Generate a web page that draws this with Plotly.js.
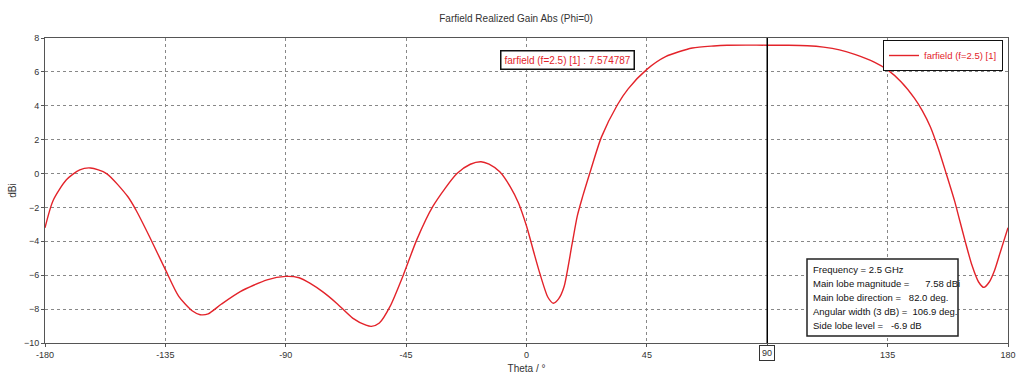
<!DOCTYPE html>
<html>
<head>
<meta charset="utf-8">
<script src="https://cdn.plot.ly/plotly-3.0.1.min.js"></script>
<style>html,body{margin:0;padding:0;background:#fff;}#chart{width:1024px;height:381px;}</style>
</head>
<body>
<div id="chart"></div>
<script>
// Theta (deg) and realized gain (dBi)
const theta = [-180,-177,-172,-167,-163,-157,-149,-146,-141,-135,-130,-125,-122,-119,-114,-107,-97,-90,-85,-81,-76,-71,-65,-60,-58,-55,-51,-46,-41,-35,-26,-21,-17,-14,-10,-6,-3,0,3,5,8,10,12,14,17,19,21,24,28,34,38,45,52,62,70,75,82,90,98,105,111,117,123,130,135,140,145,148,151,154,157,160,162,164,166.5,169,171,173,175,177,180];
const gain  = [-3.2,-1.6,-0.37,0.22,0.33,0.0,-1.37,-2.15,-3.7,-5.67,-7.25,-8.1,-8.33,-8.28,-7.7,-6.97,-6.27,-6.07,-6.15,-6.47,-7.0,-7.65,-8.53,-8.95,-9.02,-8.82,-7.84,-5.97,-3.9,-1.94,0.0,0.55,0.7,0.55,0.1,-0.8,-1.74,-3.1,-4.8,-5.9,-7.3,-7.65,-7.4,-6.7,-4.2,-2.5,-1.35,0.2,2.15,4.06,5.0,6.15,6.9,7.41,7.53,7.57,7.58,7.575,7.57,7.54,7.46,7.3,7.02,6.58,6.12,5.42,4.45,3.7,2.75,1.45,-0.05,-1.6,-2.8,-4.0,-5.4,-6.4,-6.72,-6.4,-5.7,-4.7,-3.2];
const xTicks = [-180,-135,-90,-45,0,45,90,135,180];
const xTickText = ['-180','-135','-90','-45','0','45','','135','180'];
const yTicks = [-10,-8,-6,-4,-2,0,2,4,6,8];
const seriesName = 'farfield (f=2.5) [1]';
const markerTheta = 90;
const markerLabel = 'farfield (f=2.5) [1] : 7.574787';
const infoLines = [
  'Frequency = 2.5 GHz',
  'Main lobe magnitude =&nbsp;&nbsp;&nbsp;&nbsp;&nbsp; 7.58 dBi',
  'Main lobe direction =&nbsp;&nbsp; 82.0 deg.',
  'Angular width (3 dB) =&nbsp; 106.9 deg.',
  'Side lobe level =&nbsp;&nbsp; -6.9 dB'
];

const FONT = 'Liberation Sans, Arial, sans-serif';
const L = 45, R = 1008, T = 38, B = 343;
const px = v => (v - L) / (R - L);
const py = v => (B - v) / (B - T);

const trace = {
  x: theta, y: gain, type: 'scatter', mode: 'lines', name: seriesName,
  line: {color: '#e3232a', width: 1.4, shape: 'spline', smoothing: 0.7},
  hoverinfo: 'skip'
};

const annotations = [
  {xref:'paper', yref:'paper', x:px(567), y:py(60), xanchor:'center', yanchor:'middle', text:markerLabel, showarrow:false,
   font:{family:FONT, size:10, color:'#e3232a'}, bgcolor:'#fff', bordercolor:'#111', borderwidth:1.5, borderpad:3},
  {xref:'x', yref:'paper', x:markerTheta, y:py(353), xanchor:'center', yanchor:'middle', text:String(markerTheta), showarrow:false,
   font:{family:FONT, size:9, color:'#333'}, bgcolor:'#fff', bordercolor:'#333', borderwidth:1, borderpad:2}
];
const lineY = [269, 283, 297, 311, 325];
infoLines.forEach((t, i) => annotations.push({
  xref:'paper', yref:'paper', x:px(811), y:py(lineY[i]), xanchor:'left', yanchor:'middle',
  text:t, showarrow:false, font:{family:FONT, size:9.5, color:'#111'}
}));

const layout = {
  width: 1024, height: 381,
  margin: {l: L, r: 1024 - R, t: T, b: 381 - B, autoexpand: false},
  paper_bgcolor: '#fff', plot_bgcolor: '#fff',
  font: {family: FONT, size: 9, color: '#333'},
  title: {text: 'Farfield Realized Gain Abs (Phi=0)', x: 0.504, xref: 'container', y: 1 - 18/381, yanchor: 'middle',
          font: {family: FONT, size: 10, color: '#333'}},
  xaxis: {range: [-180, 180], tickvals: xTicks, ticktext: xTickText, ticks: 'outside', ticklen: 3,
          tickcolor: '#555', showline: true, linecolor: '#555', linewidth: 1, mirror: true,
          showgrid: true, gridcolor: '#888', griddash: 'dot', gridwidth: 1, zeroline: false,
          tickfont: {family: FONT, size: 9, color: '#333'},
          title: {text: 'Theta / °', standoff: 6, font: {family: FONT, size: 10, color: '#333'}}},
  yaxis: {range: [-10, 8], tickvals: yTicks, ticks: 'outside', ticklen: 3,
          tickcolor: '#555', showline: true, linecolor: '#555', linewidth: 1, mirror: true,
          showgrid: true, gridcolor: '#888', griddash: 'dot', gridwidth: 1, zeroline: false,
          tickfont: {family: FONT, size: 9, color: '#333'},
          title: {text: 'dBi', standoff: 5, font: {family: FONT, size: 10, color: '#333'}}},
  showlegend: true,
  legend: {x: px(1003), y: py(40), xanchor: 'right', yanchor: 'top', bgcolor: '#fff', bordercolor: '#111', borderwidth: 1,
           font: {family: FONT, size: 9.5, color: '#e3232a'}, itemwidth: 30, tracegroupgap: 0},
  shapes: [
    {type:'line', xref:'x', yref:'paper', x0:markerTheta, x1:markerTheta, y0:0, y1:1, line:{color:'#000', width:1.5}},
    {type:'rect', xref:'paper', yref:'paper', x0:px(807), x1:px(958), y0:py(336), y1:py(259),
     line:{color:'#222', width:1.5}, fillcolor:'#fff', layer:'above'}
  ],
  annotations: annotations
};

Plotly.newPlot('chart', [trace], layout, {displayModeBar: false, staticPlot: true});
</script>
</body>
</html>
